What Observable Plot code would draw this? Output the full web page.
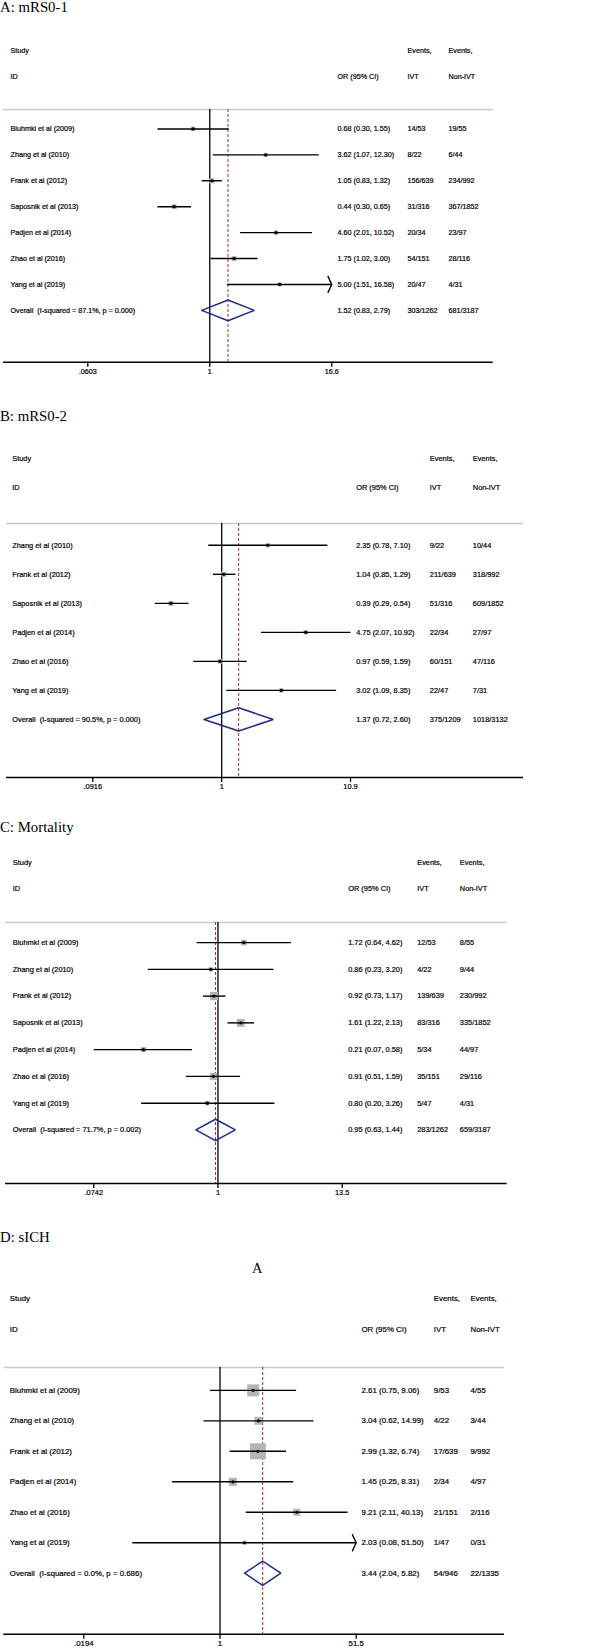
<!DOCTYPE html>
<html>
<head>
<meta charset="utf-8">
<script src="https://cdn.jsdelivr.net/npm/d3@7"></script>
<script src="https://cdn.jsdelivr.net/npm/@observablehq/plot@0.6"></script>
<style>
  body { margin: 0; background: #fff; }
  #root { position: relative; width: 598px; height: 1652px; overflow: hidden; background: #fff; }
  .title { position: absolute; left: 0; font-family: "Liberation Serif", "Times New Roman", serif; font-size: 14.8px; line-height: 1; color: #000; white-space: nowrap; z-index: 2; }
  .panel { position: absolute; left: 0; z-index: 1; }
</style>
</head>
<body>
<div id="root"></div>
<script>
// ---------------- DATA ----------------
// Panel A: mRS0-1
const studiesA = ["Bluhmki et al (2009)", "Zhang et al (2010)", "Frank et al (2012)", "Saposnik et al (2013)", "Padjen et al (2014)", "Zhao et al (2016)", "Yang et al (2019)"];
const orA  = [0.68, 3.62, 1.05, 0.44, 4.60, 1.75, 5.00];
const loA  = [0.30, 1.07, 0.83, 0.30, 2.01, 1.02, 1.51];
const hiA  = [1.55, 12.30, 1.32, 0.65, 10.52, 3.00, 16.58];
const ivtA = ["14/53", "8/22", "156/639", "31/316", "20/34", "54/151", "20/47"];
const nonA = ["19/55", "6/44", "234/992", "367/1852", "23/97", "28/116", "4/31"];
const weightA = [13.5, 10.5, 17, 16, 12.5, 15, 11];
const clippedA = [false, false, false, false, false, false, true];
const overallA = { or: 1.52, lo: 0.83, hi: 2.79, ivt: "303/1262", non: "681/3187", i2: "87.1", p: "0.000" };
const ticksA = [0.0603, 1, 16.6];
const tickLabelsA = [".0603", "1", "16.6"];

// Panel B: mRS0-2
const studiesB = ["Zhang et al (2010)", "Frank et al (2012)", "Saposnik et al (2013)", "Padjen et al (2014)", "Zhao et al (2016)", "Yang et al (2019)"];
const orB  = [2.35, 1.04, 0.39, 4.75, 0.97, 3.02];
const loB  = [0.78, 0.85, 0.29, 2.07, 0.59, 1.09];
const hiB  = [7.10, 1.29, 0.54, 10.92, 1.59, 8.35];
const ivtB = ["9/22", "211/639", "51/316", "22/34", "60/151", "22/47"];
const nonB = ["10/44", "318/992", "609/1852", "27/97", "47/116", "7/31"];
const weightB = [14, 20.5, 18.5, 15, 17, 15];
const clippedB = [false, false, false, false, false, false];
const overallB = { or: 1.37, lo: 0.72, hi: 2.60, ivt: "375/1209", non: "1018/3132", i2: "90.5", p: "0.000" };
const ticksB = [0.0916, 1, 10.9];
const tickLabelsB = [".0916", "1", "10.9"];

// Panel C: Mortality
const studiesC = ["Bluhmki et al (2009)", "Zhang et al (2010)", "Frank et al (2012)", "Saposnik et al (2013)", "Padjen et al (2014)", "Zhao et al (2016)", "Yang et al (2019)"];
const orC  = [1.72, 0.86, 0.92, 1.61, 0.21, 0.91, 0.80];
const loC  = [0.64, 0.23, 0.73, 1.22, 0.07, 0.51, 0.20];
const hiC  = [4.62, 3.20, 1.17, 2.13, 0.58, 1.59, 3.26];
const ivtC = ["12/53", "4/22", "139/639", "83/316", "5/34", "35/151", "5/47"];
const nonC = ["8/55", "9/44", "230/992", "335/1852", "44/97", "29/116", "4/31"];
const weightC = [11.5, 7, 24, 22.5, 10, 17.5, 7.5];
const clippedC = [false, false, false, false, false, false, false];
const overallC = { or: 0.95, lo: 0.63, hi: 1.44, ivt: "283/1262", non: "659/3187", i2: "71.7", p: "0.002" };
const ticksC = [0.0742, 1, 13.5];
const tickLabelsC = [".0742", "1", "13.5"];

// Panel D: sICH
const studiesD = ["Bluhmki et al (2009)", "Zhang et al (2010)", "Frank et al (2012)", "Padjen et al (2014)", "Zhao et al (2016)", "Yang et al (2019)"];
const orD  = [2.61, 3.04, 2.99, 1.45, 9.21, 2.03];
const loD  = [0.75, 0.62, 1.32, 0.25, 2.11, 0.08];
const hiD  = [9.06, 14.99, 6.74, 8.31, 40.13, 51.50];
const ivtD = ["9/53", "4/22", "17/639", "2/34", "21/151", "1/47"];
const nonD = ["4/55", "3/44", "9/992", "4/97", "2/116", "0/31"];
const weightD = [24.3, 10.8, 43.2, 10.8, 8.3, 2.6];
const clippedD = [false, false, false, false, false, true];
const overallD = { or: 3.44, lo: 2.04, hi: 5.82, ivt: "54/946", non: "22/1335", i2: "0.0", p: "0.686" };
const ticksD = [0.0194, 1, 51.5];
const tickLabelsD = [".0194", "1", "51.5"];

const headerTop = ["Study", "", "Events,", "Events,"];
const headerBottom = ["ID", "OR (95% CI)", "IVT", "Non-IVT"];
const titles = ["A: mRS0-1", "B: mRS0-2", "C: Mortality", "D: sICH"];
const subtitleD = "A";

// ---------------- LAYOUT (style only) ----------------
const layouts = [
  { titleTop: 0.4, grayY: 109, axisY: 361.7, left: 3, right: 492.7, xr: [87.3, 331.3], fs: 7.2, cols: [7, 334, 404, 445], rMax: 2.9 },
  { titleTop: 409, grayY: 522.7, axisY: 776.7, left: 6, right: 523, xr: [92.3, 350], fs: 7.4, cols: [5.7, 349.7, 423.3, 466.3], rMax: 2.9 },
  { titleTop: 820, grayY: 921.7, axisY: 1182.7, left: 5, right: 506.7, xr: [93.3, 341.7], fs: 7.4, cols: [7.3, 342.7, 411.7, 454.3], rMax: 4.6 },
  { titleTop: 1230, grayY: 1367.3, axisY: 1634, left: 3.3, right: 504, xr: [83.3, 355.7], fs: 7.9, cols: [6, 357.7, 430, 466.7], rMax: 9.0 }
];

const panels = [
  { studies: studiesA, or: orA, lo: loA, hi: hiA, ivt: ivtA, non: nonA, w: weightA, clip: clippedA, ov: overallA, ticks: ticksA, labels: tickLabelsA },
  { studies: studiesB, or: orB, lo: loB, hi: hiB, ivt: ivtB, non: nonB, w: weightB, clip: clippedB, ov: overallB, ticks: ticksB, labels: tickLabelsB },
  { studies: studiesC, or: orC, lo: loC, hi: hiC, ivt: ivtC, non: nonC, w: weightC, clip: clippedC, ov: overallC, ticks: ticksC, labels: tickLabelsC },
  { studies: studiesD, or: orD, lo: loD, hi: hiD, ivt: ivtD, non: nonD, w: weightD, clip: clippedD, ov: overallD, ticks: ticksD, labels: tickLabelsD, sub: subtitleD }
];

const f2 = d3.format(".2f");
const root = document.getElementById("root");
const W = 598, MT = 110, MB = 22;
const FONT = "'Liberation Sans', Arial, Helvetica, sans-serif";
const INK = { fill: "#000", stroke: "#000", strokeWidth: 0.2 };

panels.forEach((p, k) => {
  const L = layouts[k];
  const n = p.studies.length;
  const rows = p.studies.map((s, i) => ({
    row: i, name: s, or: p.or[i], lo: p.lo[i], hi: p.hi[i],
    ci: `${f2(p.or[i])} (${f2(p.lo[i])}, ${f2(p.hi[i])})`,
    ivt: p.ivt[i], non: p.non[i], w: p.w[i], clip: p.clip[i]
  }));
  const ovRow = {
    row: n, name: `Overall\u00a0 (I-squared = ${p.ov.i2}%, p = ${p.ov.p})`,
    ci: `${f2(p.ov.or)} (${f2(p.ov.lo)}, ${f2(p.ov.hi)})`, ivt: p.ov.ivt, non: p.ov.non
  };
  const textRows = rows.concat([ovRow]);
  const headers = [
    { row: -3, c: headerTop },
    { row: -2, c: headerBottom }
  ];
  const yDom = [-0.75, n + 2];
  const tickRows = p.ticks.map((t, i) => ({ x: t, label: p.labels[i], y: yDom[1] }));
  const h = 0.4;
  const diamond = [
    { x: p.ov.lo, y: n }, { x: p.ov.or, y: n - h }, { x: p.ov.hi, y: n },
    { x: p.ov.or, y: n + h }, { x: p.ov.lo, y: n }
  ];
  const height = MT + (L.axisY - L.grayY) + MB;
  const fs = L.fs;
  const colText = (field, ci) => Plot.text(textRows, {
    y: "row", text: field, frameAnchor: "left", dx: L.cols[ci], textAnchor: "start",
    fontSize: fs, ...INK
  });
  const headText = (ci) => Plot.text(headers, {
    y: "row", text: d => d.c[ci], frameAnchor: "left", dx: L.cols[ci], textAnchor: "start",
    fontSize: fs, ...INK
  });
  const marks = [
    Plot.ruleY([yDom[0]], { stroke: "#c9c9c9", strokeWidth: 1.5 }),
    Plot.ruleY([yDom[1]], { stroke: "#000", strokeWidth: 1.5 }),
    Plot.ruleX([1], { stroke: "#000", strokeWidth: 1.3 }),
    Plot.ruleX([p.ov.or], { stroke: "#a92b2b", strokeWidth: 1, strokeDasharray: "3,2" }),
    Plot.dot(rows, { x: "or", y: "row", r: "w", symbol: "square", fill: "#b4b4b4" }),
    Plot.link(rows.filter(d => !d.clip), { x1: "lo", x2: "hi", y1: "row", y2: "row", stroke: "#000", strokeWidth: 1.4 }),
    Plot.arrow(rows.filter(d => d.clip), { x1: "lo", x2: "hi", y1: "row", y2: "row", stroke: "#000", strokeWidth: 1.4, headAngle: 130, headLength: 9.5 }),
    Plot.dot(rows, { x: "or", y: "row", r: 1.6, fill: "#000" }),
    Plot.line(diamond, { x: "x", y: "y", stroke: "#1f2a8c", strokeWidth: 1.5, strokeLinejoin: "miter" }),
    colText("name", 0), colText("ci", 1), colText("ivt", 2), colText("non", 3),
    headText(0), headText(1), headText(2), headText(3),
    // axis ticks (short rules hanging below the axis line) and labels
    Plot.ruleX(tickRows, { x: "x", y1: "y", y2: "y", insetBottom: -5, stroke: "#000", strokeWidth: 1.3 }),
    Plot.text(tickRows, { x: "x", text: "label", frameAnchor: "bottom", dy: 11.5, fontSize: fs, ...INK })
  ];
  if (p.sub) {
    marks.push(Plot.text([{ row: -4, t: p.sub }], {
      y: "row", text: "t", frameAnchor: "middle", dx: 3, fontSize: 14.5,
      fontFamily: "'Liberation Serif', 'Times New Roman', serif", fill: "#000"
    }));
  }
  const chart = Plot.plot({
    width: W, height,
    marginTop: MT, marginBottom: MB, marginLeft: L.left, marginRight: W - L.right,
    style: { fontFamily: FONT, fontSize: fs + "px", background: "transparent", overflow: "visible", color: "#000" },
    x: { type: "log", domain: [p.ticks[0], p.ticks[p.ticks.length - 1]], range: L.xr, clamp: true, axis: null, label: null },
    y: { type: "linear", domain: yDom, reverse: true, axis: null, label: null },
    r: { type: "sqrt", domain: [0, d3.max(p.w)], range: [0, L.rMax] },
    marks
  });
  const wrap = document.createElement("div");
  wrap.className = "panel";
  wrap.style.top = (L.grayY - MT) + "px";
  wrap.appendChild(chart);
  root.appendChild(wrap);

  const t = document.createElement("div");
  t.className = "title";
  t.style.top = L.titleTop + "px";
  t.textContent = titles[k];
  root.appendChild(t);
});
</script>
</body>
</html>
